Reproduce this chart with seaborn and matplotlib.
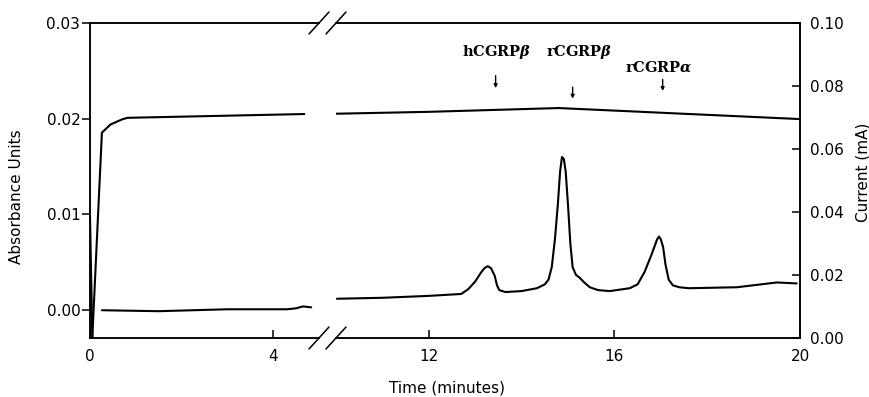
import matplotlib
matplotlib.use("Agg")
import matplotlib.pyplot as plt
import seaborn as sns
import pandas as pd

# ---------------- data ----------------
# Absorbance (left axis), left panel (0-5 min)
abs_spike_t = [0.0, 0.05]
abs_spike_v = [0.0098, -0.0028]
abs_left_t = [0.26, 1.5, 3.0, 4.3, 4.5, 4.65, 4.83]
abs_left_v = [0.0000, -0.0001, 0.0001, 0.0001, 0.0002, 0.0004, 0.0003]
# Absorbance, right panel (10-20 min)
abs_right_t = [10.02, 11.0, 12.0, 12.7, 12.85, 13.0, 13.12, 13.2, 13.27, 13.34, 13.42,
               13.47, 13.52, 13.65, 14.0, 14.33, 14.5, 14.58, 14.65, 14.72, 14.78,
               14.83, 14.87, 14.91, 14.95, 15.0, 15.05, 15.1, 15.17, 15.25, 15.35,
               15.47, 15.65, 15.9, 16.33, 16.5, 16.65, 16.8, 16.92, 16.96, 17.0,
               17.05, 17.1, 17.17, 17.26, 17.4, 17.6, 18.64, 19.5, 19.93]
abs_right_v = [0.0012, 0.0013, 0.0015, 0.0017, 0.0022, 0.0030, 0.0039, 0.0044, 0.0046,
               0.0044, 0.0036, 0.0026, 0.0021, 0.0019, 0.0020, 0.0023, 0.0027, 0.0032,
               0.0045, 0.0075, 0.0110, 0.0145, 0.0160, 0.0158, 0.0145, 0.0110, 0.0070,
               0.0045, 0.0037, 0.0034, 0.0029, 0.0024, 0.0021, 0.0020, 0.0023, 0.0027,
               0.0040, 0.0058, 0.0074, 0.0077, 0.0074, 0.0066, 0.0048, 0.0032, 0.0026,
               0.0024, 0.0023, 0.0024, 0.0029, 0.0028]
# Current (right axis, mA)
cur_left_t = [0.05, 0.26, 0.45, 0.70, 0.82, 4.68]
cur_left_v = [0.0, 0.0652, 0.0678, 0.0694, 0.0699, 0.0711]
cur_right_t = [10.0, 12.0, 14.8, 20.0]
cur_right_v = [0.0712, 0.0718, 0.0730, 0.0695]

# peak labels
peak_labels = ["hCGRP$\\boldsymbol{\\beta}$", "rCGRP$\\boldsymbol{\\beta}$", "rCGRP$\\boldsymbol{\\alpha}$"]
peak_text_x = [13.47, 15.25, 16.96]
peak_text_y = [0.0270, 0.0270, 0.0254]
peak_arrow_x = [13.44, 15.10, 17.04]
peak_arrow_top = [0.0245, 0.0233, 0.0241]
peak_arrow_bot = [0.0232, 0.0221, 0.0229]

left_xticks = [0, 4]
right_xticks = [12, 16, 20]
abs_ticks = [0.00, 0.01, 0.02, 0.03]
cur_ticks = [0.00, 0.02, 0.04, 0.06, 0.08, 0.10]

# ---------------- style ----------------
sns.set_style("ticks")
plt.rcParams["font.family"] = ["DejaVu Sans"]
plt.rcParams["mathtext.fontset"] = "dejavuserif"
for k in ("text.color", "axes.labelcolor", "xtick.color", "ytick.color", "axes.edgecolor"):
    plt.rcParams[k] = "black"
LW = 1.5
SPW = 1.1

W, H = 870, 397
fig = plt.figure(figsize=(W / 100, H / 100), dpi=100)
bottom = 1 - 338 / H
height = (338 - 23) / H
ax1 = fig.add_axes([90 / W, bottom, (319 - 90) / W, height])
ax2 = fig.add_axes([336 / W, bottom, (800 - 336) / W, height])
ax1t = ax1.twinx()
ax2t = ax2.twinx()

def line(ax, t, v):
    df = pd.DataFrame({"t": t, "v": v})
    sns.lineplot(data=df, x="t", y="v", ax=ax, color="black", lw=LW,
                 estimator=None, sort=False, legend=False)

line(ax1, abs_spike_t, abs_spike_v)
line(ax1, abs_left_t, abs_left_v)
line(ax2, abs_right_t, abs_right_v)
line(ax1t, cur_left_t, cur_left_v)
line(ax2t, cur_right_t, cur_right_v)

ylo, yhi = -0.0029, 0.03
for ax in (ax1, ax2):
    ax.set_ylim(ylo, yhi)
    ax.set_xlabel("")
    ax.set_ylabel("")
for ax in (ax1t, ax2t):
    ax.set_ylim(0, 0.10)
    ax.set_xlabel("")
    ax.set_ylabel("")
ax1.set_xlim(0, 5)
ax2.set_xlim(10, 20)

# spines
for ax in (ax1, ax1t):
    ax.spines["right"].set_visible(False)
for ax in (ax2, ax2t):
    ax.spines["left"].set_visible(False)
for ax in (ax1, ax2, ax1t, ax2t):
    for s in ax.spines.values():
        s.set_linewidth(SPW)
        s.set_color("black")

# ticks
ax1.set_xticks(left_xticks)
ax2.set_xticks(right_xticks)
ax1.set_yticks(abs_ticks)
ax1.set_yticklabels([f"{v:.2f}" for v in abs_ticks])
ax2.set_yticks([])
ax1t.set_yticks([])
ax2t.set_yticks(cur_ticks)
ax2t.set_yticklabels([f"{v:.2f}" for v in cur_ticks])
for ax in (ax1, ax2):
    ax.tick_params(axis="x", direction="in", length=6, width=SPW, pad=8, labelsize=11,
                   colors="black")
ax1.tick_params(axis="y", direction="out", length=6, width=SPW, pad=1, labelsize=11,
                colors="black")
ax2.tick_params(axis="y", left=False, labelleft=False)
ax1t.tick_params(axis="y", right=False, labelright=False)
ax2t.tick_params(axis="y", direction="in", length=6, width=SPW, pad=7, labelsize=11,
                 colors="black")

# break marks
def slash(ax, xa, ya, wpx):
    dx = 10 / wpx
    dy = 11 / (338 - 23)
    ax.plot([xa - dx, xa + dx], [ya - dy, ya + dy], transform=ax.transAxes,
            color="black", lw=SPW, clip_on=False)
slash(ax1, 1, 0, 229)
slash(ax1, 1, 1, 229)
slash(ax2, 0, 0, 464)
slash(ax2, 0, 1, 464)

# peak labels and arrows
for lab, tx, ty, axx, at, ab in zip(peak_labels, peak_text_x, peak_text_y,
                                     peak_arrow_x, peak_arrow_top, peak_arrow_bot):
    ax2.text(tx, ty, lab, ha="center", va="center", fontsize=10.5,
             family="DejaVu Serif", fontweight="bold", color="black")
    ax2.annotate("", xy=(axx, ab), xytext=(axx, at),
                 arrowprops=dict(arrowstyle="-|>", lw=1.0, color="black",
                                 mutation_scale=5, shrinkA=0, shrinkB=0))

# axis labels
fig.text(447 / W, 1 - 388 / H, "Time (minutes)", ha="center", va="center", fontsize=11)
fig.text(17 / W, 1 - 197 / H, "Absorbance Units", ha="center", va="center",
         rotation=90, fontsize=11)
fig.text(863 / W, 1 - 172 / H, "Current (mA)", ha="center", va="center",
         rotation=90, fontsize=11)

fig.savefig("out.png", dpi=100)
